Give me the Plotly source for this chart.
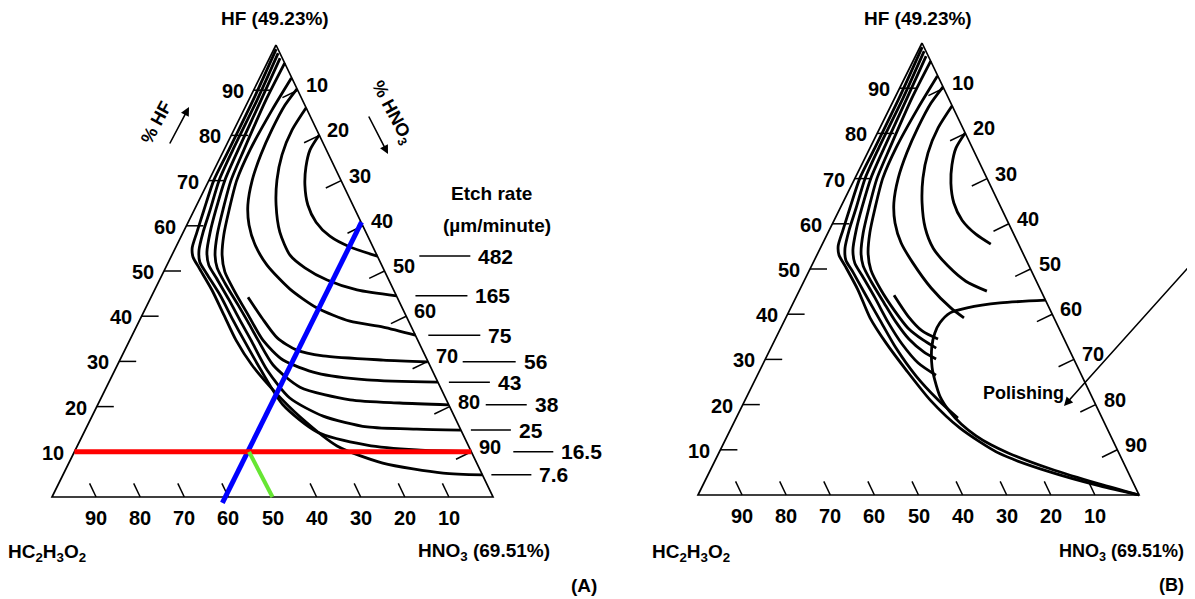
import plotly.graph_objects as go

# ---------------- data: ternary percentages (HF, HNO3); HC2H3O2 = 100 - HF - HNO3 ----------------
tick_values = [10, 20, 30, 40, 50, 60, 70, 80, 90]
etch_rates = ["482", "165", "75", "56", "43", "38", "25", "16.5", "7.6"]

# Panel A etch-rate contours
hf_7_6 = [99.1, 87.8, 76.8, 70.1, 63.5, 58.6, 55.1, 53.1, 50.7, 45.8, 40.3, 34.7, 29.2, 23.2, 17.7, 11.3, 7.5, 5.3, 4.9]
hno3_7_6 = [0.5, 1.0, 1.1, 1.1, 2.2, 3.1, 3.8, 5.0, 7.6, 13.0, 18.5, 24.1, 30.5, 38.8, 47.3, 58.9, 71.2, 86.0, 95.1]
hf_16_5 = [98.2, 87.8, 76.8, 70.1, 63.5, 58.6, 54.6, 52.0, 49.3, 44.7, 39.2, 34.7, 28.1, 20.4, 14.4, 11.5, 10.4, 10.0]
hno3_16_5 = [1.4, 1.9, 2.0, 2.3, 3.6, 4.5, 5.6, 7.1, 10.1, 15.4, 21.1, 25.9, 33.1, 42.0, 52.8, 65.6, 77.5, 90.0]
hf_25 = [97.1, 87.8, 76.8, 70.1, 63.5, 58.6, 54.2, 51.3, 48.5, 43.6, 38.7, 34.7, 28.1, 21.9, 17.9, 15.5, 15.0, 14.8]
hno3_25 = [2.4, 2.8, 3.2, 3.6, 4.9, 6.1, 7.6, 9.5, 12.6, 18.0, 23.2, 27.5, 34.5, 42.8, 52.4, 63.6, 75.1, 85.2]
hf_38 = [96.0, 87.8, 76.8, 70.1, 63.5, 58.0, 53.5, 50.7, 47.3, 42.5, 38.7, 34.7, 29.2, 24.3, 21.5, 20.8, 20.4]
hno3_38 = [4.0, 3.9, 4.5, 5.0, 6.5, 8.0, 9.8, 11.7, 15.2, 20.6, 24.8, 29.1, 35.3, 43.9, 56.7, 68.3, 79.6]
hf_43 = [92.7, 85.6, 76.8, 70.1, 63.5, 58.0, 53.5, 49.8, 45.4, 40.3, 34.7, 30.3, 27.4, 25.9, 25.4]
hno3_43 = [7.2, 6.4, 5.9, 6.3, 7.9, 9.5, 11.4, 13.9, 18.4, 24.0, 30.2, 37.0, 46.2, 58.3, 74.6]
hf_56 = [44.2, 39.6, 35.2, 32.5, 31.2, 30.3, 29.9]
hno3_56 = [22.0, 27.5, 33.2, 39.0, 45.6, 59.7, 70.0]
hf_75 = [90.3, 86.7, 81.2, 75.7, 70.1, 64.6, 60.2, 55.8, 51.3, 46.0, 41.8, 38.9, 37.6, 35.8]
hno3_75 = [9.7, 8.8, 8.6, 8.9, 9.8, 11.6, 14.1, 17.7, 22.7, 30.6, 38.9, 47.8, 56.0, 64.2]
hf_165 = [86.1, 81.2, 75.7, 70.1, 64.6, 58.6, 53.5, 50.7, 48.0, 45.8, 44.5]
hno3_165 = [13.9, 13.2, 13.7, 15.4, 18.0, 21.9, 26.8, 31.6, 38.0, 45.9, 55.5]
hf_482 = [80.1, 76.8, 73.0, 69.0, 64.6, 60.8, 57.7, 55.3, 53.3]
hno3_482 = [19.9, 19.5, 20.5, 22.3, 25.2, 29.0, 33.7, 39.5, 46.7]

# Panel A coloured construction lines
hf_red = [10, 10]
hno3_red = [0, 90]
hf_blue = [-1.3, 60.8]
hno3_blue = [39.3, 39.3]
hf_green = [10, 0]
hno3_green = [39.6, 50]

# Panel B contours
hf_b1 = [99.1, 87.8, 76.8, 70.1, 63.5, 58.6, 55.1, 53.1, 50.7, 45.4, 39.2, 33.6, 27.7, 21.0, 14.8, 9.1, 5.1, 2.0, 0]
hno3_b1 = [0.5, 1.0, 1.1, 1.1, 2.2, 3.1, 3.8, 5.0, 7.6, 13.2, 19.1, 25.6, 33.1, 42.0, 51.9, 63.9, 77.2, 90.1, 100]
hf_b2 = [98.2, 87.8, 76.8, 70.1, 63.5, 58.6, 54.6, 52.0, 49.3, 44.2, 38.7, 32.5, 26.3, 21.0, 17.0]
hno3_b2 = [1.4, 1.9, 2.0, 2.3, 3.6, 4.5, 5.6, 7.1, 10.1, 15.6, 21.6, 28.4, 36.1, 43.8, 50.3]
hf_b3 = [97.1, 87.8, 76.8, 70.1, 63.5, 58.6, 54.2, 51.3, 48.5, 43.6, 38.3, 33.4, 29.2, 26.5]
hno3_b3 = [2.4, 2.8, 3.2, 3.6, 4.9, 6.1, 7.6, 9.5, 12.6, 18.0, 23.6, 29.3, 35.1, 40.5]
hf_b4 = [96.0, 87.8, 76.8, 70.1, 63.5, 58.0, 53.5, 50.7, 47.3, 42.5, 38.3, 34.5, 31.6, 30.1]
hno3_b4 = [4.0, 3.9, 4.5, 5.0, 6.5, 8.0, 9.8, 11.7, 15.2, 20.6, 25.4, 30.3, 35.2, 38.7]
hf_b5 = [92.7, 85.6, 76.8, 70.1, 63.5, 58.0, 53.5, 49.8, 45.4, 40.9, 36.9, 34.3, 32.5]
hno3_b5 = [7.2, 6.4, 5.9, 6.3, 7.9, 9.5, 11.4, 13.9, 18.4, 23.7, 28.9, 33.6, 37.5]
hf_b6 = [44.2, 39.6, 36.3, 34.5]
hno3_b6 = [22.0, 27.5, 32.4, 36.9]
hf_b7 = [90.3, 86.7, 81.2, 75.7, 70.1, 64.6, 60.2, 55.8, 51.3, 45.8, 41.4, 39.2]
hno3_b7 = [9.7, 8.8, 8.6, 8.9, 9.8, 11.6, 14.1, 17.7, 22.7, 29.6, 36.3, 40.4]
hf_b_arc2 = [86.1, 81.2, 75.7, 70.1, 64.6, 59.1, 54.6, 50.7, 47.3, 45.1]
hno3_b_arc2 = [13.9, 13.2, 13.7, 15.4, 18.0, 21.5, 25.6, 30.9, 36.7, 42.6]
hf_b_arc1 = [80.1, 76.8, 73.0, 69.0, 64.6, 60.8, 57.7, 55.5]
hno3_b_arc1 = [19.9, 19.5, 20.5, 22.3, 25.2, 29.0, 33.7, 38.2]
hf_polish = [43.1, 42.5, 41.4, 40.3, 38.1, 35.8, 32.7, 28.3, 25.4, 21.7, 18.6, 15.7, 13.1, 11.1, 9.3, 5.8, 2.4, 0]
hno3_polish = [56.9, 46.9, 40.0, 36.7, 35.5, 35.5, 36.4, 38.7, 40.8, 43.9, 47.5, 51.7, 56.4, 60.8, 65.6, 76.9, 89.9, 100]

# ---------------- geometry / style ----------------
FIG_W, FIG_H = 1195, 599
PAGE = 8             # the page body margin that offsets the figure in the browser
SX = 4.41            # px per 1 % along the base
SY = 4.52            # px per 1 % HF vertically
K = 224.0 / 441.0    # horizontal apex offset relative to base width
ORIGIN = {"A": (52.0 - PAGE, 497.0 - PAGE), "B": (698.0 - PAGE, 495.0 - PAGE)}
AXES = {"A": ("x", "y"), "B": ("x2", "y2")}
FONT = "Liberation Sans, Arial, Helvetica, sans-serif"
TXT = dict(family=FONT, size=20, color="black")


def proj(hf, hno3):
    xs, ys = [], []
    for a, c in zip(hf, hno3):
        if a is None:
            xs.append(None)
            ys.append(None)
        else:
            xs.append(c + K * a)
            ys.append(a)
    return xs, ys


fig = go.Figure()


def add_line(panel, hf, hno3, color="black", width=2.8, shape="spline"):
    xs, ys = proj(hf, hno3)
    xa, ya = AXES[panel]
    fig.add_trace(go.Scatter(
        x=xs, y=ys, xaxis=xa, yaxis=ya, mode="lines",
        line=dict(color=color, width=width, shape=shape, smoothing=0.7),
        hoverinfo="skip", showlegend=False, connectgaps=False))


annotations = []


def label(panel, hf, hno3, text, dx=0, dy=0, anchor="center", size=20):
    x, y = proj([hf], [hno3])
    xa, ya = AXES[panel]
    annotations.append(dict(
        x=x[0], y=y[0], xref=xa, yref=ya, text="<b>" + text + "</b>",
        showarrow=False, xshift=dx, yshift=dy, xanchor=anchor, yanchor="middle",
        font=dict(TXT, size=size)))


def paper_text(px, py, text, size=20, angle=0, anchor="center"):
    annotations.append(dict(
        x=(px - PAGE) / FIG_W, y=1 - (py - PAGE) / FIG_H, xref="paper", yref="paper",
        text="<b>" + text + "</b>", showarrow=False, textangle=angle,
        xanchor=anchor, yanchor="middle", font=dict(TXT, size=size)))


def paper_arrow(tail, head):
    annotations.append(dict(
        x=(head[0] - PAGE) / FIG_W, y=1 - (head[1] - PAGE) / FIG_H,
        xref="paper", yref="paper",
        ax=tail[0] - head[0], ay=tail[1] - head[1], axref="pixel", ayref="pixel",
        text="", showarrow=True, arrowhead=2, arrowsize=1.1, arrowwidth=1.6,
        arrowcolor="black", font=dict(TXT, size=10)))


def draw_frame(panel):
    # triangle outline
    add_line(panel, [100, 0, 0, 100], [0, 0, 100, 0], width=1.7, shape="linear")
    LT = 17.0 / SX       # left tick length (% HNO3)
    BT = 3.0             # bottom tick length (% HF)
    xs, ys = [], []
    for v in tick_values:
        # left (HF) ticks, horizontal inward
        x, y = proj([v, v], [0, LT])
        xs += x + [None]
        ys += y + [None]
        # bottom (HC2H3O2) ticks, parallel to right edge
        x, y = proj([0, BT], [100 - v, 100 - v - BT])
        xs += x + [None]
        ys += y + [None]
        # right (HNO3) ticks, perpendicular inward
        x, y = proj([100 - v], [v])
        xs += [x[0], x[0] - 15.3 / SX, None]
        ys += [y[0], y[0] - 7.4 / SY, None]
    xa, ya = AXES[panel]
    fig.add_trace(go.Scatter(x=xs, y=ys, xaxis=xa, yaxis=ya, mode="lines",
                             line=dict(color="black", width=1.5),
                             hoverinfo="skip", showlegend=False))
    for v in tick_values:
        label(panel, v, 0, str(v), dx=-21, dy=-1)
        label(panel, 0, 100 - v, str(v), dy=-21)
        label(panel, 100 - v, v, str(v), dx=19, dy=5)


# ---------------- panel A ----------------
draw_frame("A")
curves_a = [(hf_482, hno3_482), (hf_165, hno3_165), (hf_75, hno3_75), (hf_56, hno3_56),
            (hf_43, hno3_43), (hf_38, hno3_38), (hf_25, hno3_25), (hf_16_5, hno3_16_5),
            (hf_7_6, hno3_7_6)]
for hf, hn in curves_a:
    add_line("A", hf, hn)

add_line("A", hf_blue, hno3_blue, color="#0000ff", width=5, shape="linear")
add_line("A", hf_red, hno3_red, color="#ff0000", width=5, shape="linear")
add_line("A", hf_green, hno3_green, color="#66e633", width=4, shape="linear")

# etch-rate leaders and labels
leader_off = [42, 19, 13, 35, 11, 37, 10, 42, 9]
leader_len = [51, 52, 52, 53, 41, 41, 40, 40, 40]
lx, ly = [], []
for (hf, hn), rate, off, ln in zip(curves_a, etch_rates, leader_off, leader_len):
    x, y = proj([hf[-1]], [hn[-1]])
    lx += [x[0] + off / SX, x[0] + (off + ln) / SX, None]
    ly += [y[0], y[0], None]
    label("A", hf[-1], hn[-1], rate, dx=off + ln + 6, anchor="left", size=21)
fig.add_trace(go.Scatter(x=lx, y=ly, mode="lines", line=dict(color="black", width=1.5),
                         hoverinfo="skip", showlegend=False))

paper_text(491, 193, "Etch rate", size=19)
paper_text(497, 225, "(µm/minute)", size=19)
paper_text(275, 18, "HF (49.23%)", size=19)
paper_text(47, 553, "HC<sub>2</sub>H<sub>3</sub>O<sub>2</sub>", size=19)
paper_text(484, 552, "HNO<sub>3</sub> (69.51%)", size=19)
paper_text(584, 585, "(A)", size=19)
paper_text(156, 123, "% HF", size=18, angle=-62)
paper_text(391, 113, "% HNO<sub>3</sub>", size=18, angle=62)
paper_arrow((169, 145), (189, 107))
paper_arrow((368, 115), (388, 154))

# ---------------- panel B ----------------
draw_frame("B")
for hf, hn in [(hf_b1, hno3_b1), (hf_b2, hno3_b2), (hf_b3, hno3_b3), (hf_b4, hno3_b4),
               (hf_b5, hno3_b5), (hf_b6, hno3_b6), (hf_b7, hno3_b7),
               (hf_b_arc2, hno3_b_arc2), (hf_b_arc1, hno3_b_arc1),
               (hf_polish, hno3_polish)]:
    add_line("B", hf, hn)

paper_text(918, 18, "HF (49.23%)", size=19)
paper_text(691, 553, "HC<sub>2</sub>H<sub>3</sub>O<sub>2</sub>", size=19)
paper_text(1121, 552, "HNO<sub>3</sub> (69.51%)", size=18)
paper_text(1171, 585, "(B)", size=18)
paper_text(1023, 393, "Polishing", size=18)
paper_arrow((1212, 251), (1064, 406))

# ---------------- layout ----------------
def rng(panel):
    x0, y0 = ORIGIN[panel]
    return [-x0 / SX, (FIG_W - x0) / SX], [(y0 - FIG_H) / SY, y0 / SY]

xr_a, yr_a = rng("A")
xr_b, yr_b = rng("B")
hidden = dict(visible=False, showgrid=False, zeroline=False, fixedrange=True, domain=[0, 1])
fig.update_layout(
    width=FIG_W, height=FIG_H,
    margin=dict(l=0, r=0, t=0, b=0),
    paper_bgcolor="white", plot_bgcolor="white",
    xaxis=dict(hidden, range=xr_a, anchor="y"),
    yaxis=dict(hidden, range=yr_a, anchor="x"),
    xaxis2=dict(hidden, range=xr_b, anchor="y2", overlaying="x"),
    yaxis2=dict(hidden, range=yr_b, anchor="x2", overlaying="y"),
    annotations=annotations,
    showlegend=False,
)

fig.write_html("out.html")
